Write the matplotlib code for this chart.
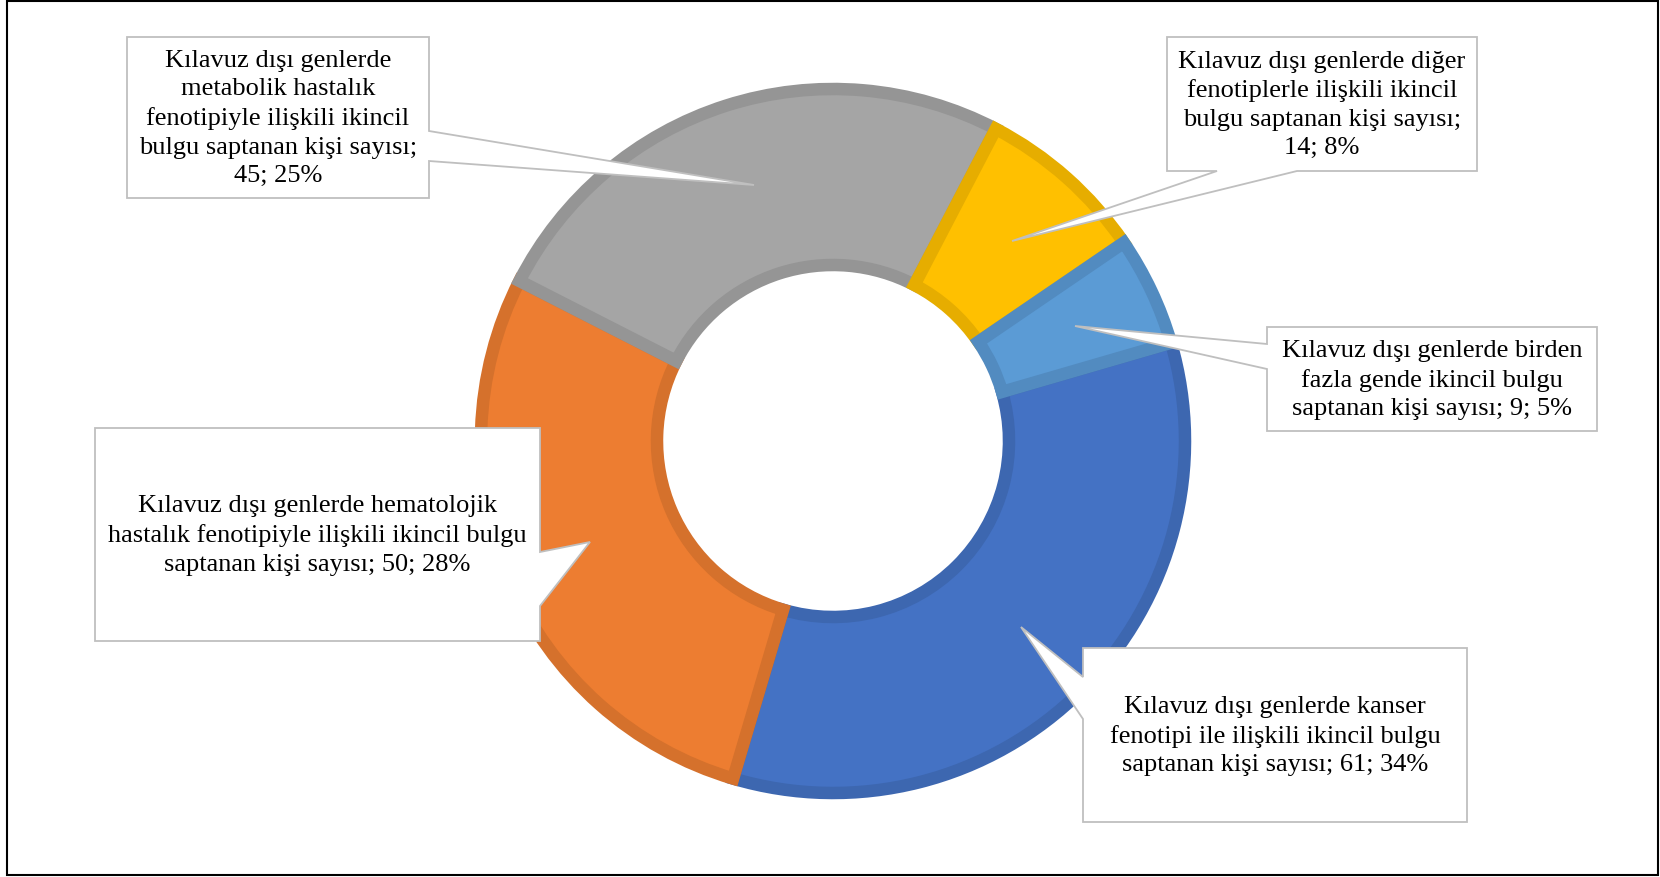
import matplotlib
matplotlib.use('Agg')
import matplotlib.pyplot as plt
from matplotlib.patches import Polygon, Rectangle
from matplotlib.colors import to_rgb

W, H = 1660, 878

counts = [61, 50, 45, 14, 9]
names = [
    'Kılavuz dışı genlerde kanser\nfenotipi ile ilişkili ikincil bulgu\nsaptanan kişi sayısı',
    'Kılavuz dışı genlerde hematolojik\nhastalık fenotipiyle ilişkili ikincil bulgu\nsaptanan kişi sayısı',
    'Kılavuz dışı genlerde\nmetabolik hastalık\nfenotipiyle ilişkili ikincil\nbulgu saptanan kişi sayısı',
    'Kılavuz dışı genlerde diğer\nfenotiplerle ilişkili ikincil\nbulgu saptanan kişi sayısı',
    'Kılavuz dışı genlerde birden\nfazla gende ikincil bulgu\nsaptanan kişi sayısı',
]
# value part goes on its own line for the narrow boxes
value_on_new_line = [False, False, True, True, False]
colors = ['#4472C4', '#ED7D31', '#A5A5A5', '#FFC000', '#5B9BD5']

# callout layout in pixels (y down): box, side of the pointer, pointer base span, pointer tip
box_rects = [(1083, 649, 1467, 823), (95, 429, 540, 642), (127, 38, 429, 199),
             (1167, 38, 1477, 172), (1267, 328, 1597, 432)]
pointer_side = ['left', 'right', 'right', 'bottom', 'left']
pointer_base = [(678, 720), (553, 607), (132, 162), (1217, 1297), (345, 370)]
pointer_tip = [(1021, 628), (590, 543), (754, 186), (1012, 242), (1075, 327)]

center = (833, 442)
radius = 352


def darker(c, f=0.9):
    r, g, b = to_rgb(c)
    return (r * f, g * f, b * f)


def callout_points(rect, side, base, tip):
    x0, y0, x1, y1 = rect
    a, b = base
    if side == 'right':
        return [(x0, y0), (x1, y0), (x1, a), tip, (x1, b), (x1, y1), (x0, y1)]
    if side == 'left':
        return [(x0, y0), (x1, y0), (x1, y1), (x0, y1), (x0, b), tip, (x0, a)]
    if side == 'bottom':
        return [(x0, y0), (x1, y0), (x1, y1), (b, y1), tip, (a, y1), (x0, y1)]
    return [(x0, y0), (a, y0), tip, (b, y0), (x1, y0), (x1, y1), (x0, y1)]


fig = plt.figure(figsize=(W / 100, H / 100), dpi=100)
ax = fig.add_axes([0, 0, 1, 1])

total = sum(counts)
# y axis runs downward, so counterclock=True turns clockwise on screen
wedges, _ = ax.pie(counts, colors=colors, startangle=-16.2, counterclock=True,
                   radius=radius, center=center,
                   wedgeprops=dict(width=radius * 0.5))
for w, c in zip(wedges, colors):
    w.set_edgecolor(darker(c))
    w.set_linewidth(9)
    w.set_joinstyle('miter')
    w.set_clip_path(w)

ax.set_xlim(0, W)
ax.set_ylim(H, 0)
ax.set_aspect('equal')
ax.axis('off')

for i, v in enumerate(counts):
    pct = round(v / total * 100)
    sep = ';\n' if value_on_new_line[i] else '; '
    label = f'{names[i]}{sep}{v}; {pct}%'
    pts = callout_points(box_rects[i], pointer_side[i], pointer_base[i], pointer_tip[i])
    ax.add_patch(Polygon(pts, closed=True, facecolor='white', edgecolor='#BFBFBF',
                         linewidth=1.3, joinstyle='miter', zorder=5))
    x0, y0, x1, y1 = box_rects[i]
    ax.text((x0 + x1) / 2, (y0 + y1) / 2, label, ha='center', va='center',
            multialignment='center', fontsize=19, family='Liberation Serif',
            linespacing=1.38, color='black', zorder=6)

# outer frame
ax.add_patch(Rectangle((7, 1.5), W - 9, H - 3, fill=False, edgecolor='black',
                       linewidth=1.5, zorder=7))

fig.savefig('out.png', dpi=100)
